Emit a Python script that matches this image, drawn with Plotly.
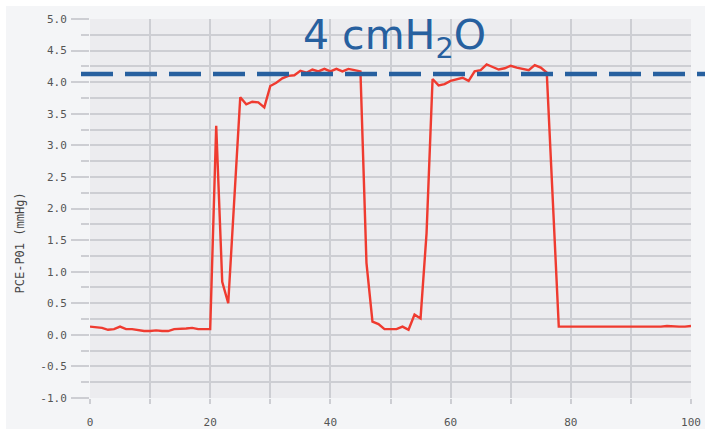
import plotly.graph_objects as go

# ---- data ----
x_vals = [0, 1, 2, 3, 4, 5, 6, 7, 8, 9, 10, 11, 12, 13, 14, 15, 16, 17, 18, 19, 20,
          21, 22, 23, 25, 26, 27, 28, 29, 30, 31, 32, 33, 34, 35, 36, 37, 38, 39, 40,
          41, 42, 43, 44, 45, 46, 47, 48, 49, 50, 51, 52, 53, 54, 55, 56, 57, 58, 59,
          60, 61, 62, 63, 64, 65, 66, 67, 68, 69, 70, 71, 72, 73, 74, 75, 76, 78, 79,
          80, 81, 82, 83, 84, 85, 86, 87, 88, 89, 90, 91, 92, 93, 94, 95, 96, 97, 98,
          99, 100]
pressure = [0.13, 0.12, 0.11, 0.08, 0.09, 0.13, 0.09, 0.09, 0.07, 0.06, 0.06, 0.07, 0.06,
            0.06, 0.09, 0.09, 0.10, 0.11, 0.09, 0.09, 0.09,
            3.31, 0.84, 0.50, 3.76, 3.65, 3.69, 3.68, 3.60, 3.94, 3.99, 4.06, 4.10, 4.11,
            4.18, 4.15, 4.20, 4.17, 4.21, 4.17, 4.21, 4.17, 4.21, 4.19, 4.17, 1.14, 0.21,
            0.17, 0.09, 0.09, 0.09, 0.13, 0.08, 0.32, 0.26, 1.61, 4.05, 3.95, 3.97, 4.02,
            4.05, 4.07, 4.02, 4.17, 4.19, 4.28, 4.24, 4.20, 4.22, 4.26, 4.23, 4.21, 4.19,
            4.27, 4.23, 4.15, 0.13, 0.13, 0.13, 0.12, 0.12, 0.13, 0.13, 0.12, 0.12, 0.13,
            0.13, 0.13, 0.12, 0.13, 0.12, 0.12, 0.13, 0.13, 0.14, 0.13, 0.13, 0.13, 0.14,
            0.14]
x_ticks = [0, 20, 40, 60, 80, 100]
y_ticks = [-1.0, -0.5, 0.0, 0.5, 1.0, 1.5, 2.0, 2.5, 3.0, 3.5, 4.0, 4.5, 5.0]
y_tick_labels = ["-1.0", "-0.5", "0.0", "0.5", "1.0", "1.5", "2.0", "2.5", "3.0",
                 "3.5", "4.0", "4.5", "5.0"]
threshold = 4.13
threshold_label = "4 cmH<sub>2</sub>O"
y_title = "PCE-P01 (mmHg)"

# ---- styling ----
W, H = 705, 429
L, R, T, B = 90, 14, 19, 31
pw, ph = W - L - R, H - T - B


def px_x(p):
    return (p - L) / pw


def px_y(p):
    return (H - B - p) / ph


GRID = "#cdced3"
MONO = "DejaVu Sans Mono"
BLUE = "#27609f"

fig = go.Figure()
fig.add_trace(go.Scatter(x=x_vals, y=pressure, mode="lines",
                         line=dict(color="#ef3b30", width=2.4), showlegend=False))

fig.update_layout(
    width=W, height=H,
    margin=dict(l=L, r=R, t=T, b=B, pad=0),
    paper_bgcolor="#f4f5f7",
    plot_bgcolor="#ececef",
    showlegend=False,
    xaxis=dict(range=[0, 100], tickvals=x_ticks, ticktext=[str(v) for v in x_ticks],
               showgrid=True, gridcolor=GRID, gridwidth=1.5, zeroline=False,
               ticks="outside", ticklen=5, tickcolor=GRID, tickwidth=1.5,
               tickfont=dict(family=MONO, size=11, color="#555555"),
               ticklabelstandoff=9,
               minor=dict(dtick=10, showgrid=True, gridcolor=GRID, gridwidth=1.5,
                          ticks="outside", ticklen=5, tickcolor=GRID, tickwidth=1.5),
               showline=False, fixedrange=True, automargin=False),
    yaxis=dict(range=[-1.0, 5.0], tickvals=y_ticks, ticktext=y_tick_labels,
               showgrid=True, gridcolor=GRID, gridwidth=1.5, zeroline=False,
               ticks="outside", ticklen=18, tickcolor=GRID, tickwidth=1.5,
               tickfont=dict(family=MONO, size=11, color="#555555"),
               ticklabelstandoff=2,
               minor=dict(dtick=0.25, showgrid=True, gridcolor=GRID, gridwidth=1.5,
                          ticks="outside", ticklen=8, tickcolor=GRID, tickwidth=1.5),
               showline=False, fixedrange=True, automargin=False),
)

# white frame strips at top and left of the panel
fig.add_shape(type="rect", xref="paper", yref="paper", layer="below",
              x0=px_x(-2), x1=px_x(W + 2), y0=px_y(6), y1=px_y(-2),
              fillcolor="white", line=dict(width=0))
fig.add_shape(type="rect", xref="paper", yref="paper", layer="below",
              x0=px_x(-2), x1=px_x(6), y0=px_y(H + 2), y1=px_y(-2),
              fillcolor="white", line=dict(width=0))

# threshold dashed line
fig.add_shape(type="line", xref="paper", yref="y",
              x0=px_x(81), x1=px_x(W + 2), y0=threshold, y1=threshold,
              line=dict(color=BLUE, width=4.5, dash="32px,12px"))

fig.add_annotation(text=threshold_label, xref="paper", yref="paper",
                   x=px_x(394.5), y=px_y(9), xanchor="center", yanchor="top",
                   showarrow=False,
                   font=dict(family="DejaVu Sans", size=41, color=BLUE))

fig.add_annotation(text=y_title, xref="paper", yref="paper",
                   x=px_x(19.5), y=px_y(243), xanchor="center", yanchor="middle",
                   textangle=-90, showarrow=False,
                   font=dict(family=MONO, size=12, color="#444444"))

fig.write_html("out.html",
               config={"displayModeBar": False},
               post_script="document.body.style.margin='0';"
                           "document.body.style.overflow='hidden';")
